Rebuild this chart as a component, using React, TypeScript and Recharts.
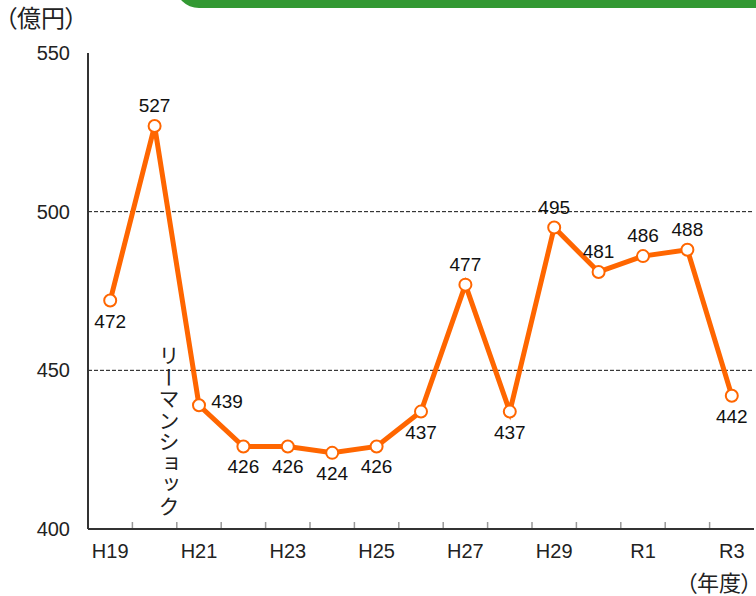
import { LineChart, Line, XAxis, YAxis, ReferenceLine, LabelList } from "recharts"

const years = ["H19", "H20", "H21", "H22", "H23", "H24", "H25", "H26", "H27", "H28", "H29", "H30", "R1", "R2", "R3"]
const amounts = [472, 527, 439, 426, 426, 424, 426, 437, 477, 437, 495, 481, 486, 488, 442]
// where each value label sits relative to its point
const labelSides = ["below", "above", "right", "below", "below", "below", "below", "below", "above", "below", "above", "above", "above", "above", "below"]
const yTicks = [400, 450, 500, 550]
const gridValues = [450, 500]

const data = years.map((year, i) => ({ year, amount: amounts[i] }))

const W = 756
const H = 596
const PLOT_LEFT = 88
const PLOT_RIGHT = 754
const STEP = (PLOT_RIGHT - PLOT_LEFT) / years.length
const ORANGE = "#FF6600"
const LATIN = "'Liberation Sans', Arial, sans-serif"
const CJK = "'Noto Sans CJK JP', sans-serif"

const YearTick = (props: any) => {
  const { x, y, index, payload } = props
  return (
    <g>
      {index < years.length - 1 && (
        <line x1={x + STEP / 2} x2={x + STEP / 2} y1={y - 1} y2={y - 7} stroke="#999" strokeWidth={1.5} />
      )}
      {index % 2 === 0 && (
        <text x={x} y={y + 29} textAnchor="middle" fontSize={20} fill="#222" fontFamily={LATIN}>
          {payload.value}
        </text>
      )}
    </g>
  )
}

const offsets: Record<string, [number, number]> = {
  above: [0, -14],
  below: [0, 27],
  right: [28, 3],
}

const ValueLabel = (props: any) => {
  const { x, y, value, index } = props
  const [dx, dy] = offsets[labelSides[index]]
  return (
    <text x={x + dx} y={y + dy} textAnchor="middle" fontSize={19} fill="#111" fontFamily={LATIN}>
      {value}
    </text>
  )
}

const App = () => {
  return (
    <div style={{ position: "absolute", left: 0, top: 0, width: W, height: H, overflow: "hidden", background: "#fff" }}>
      <div
        style={{
          position: "absolute",
          left: 175,
          top: -40,
          width: 700,
          height: 48,
          background: "#339933",
          borderRadius: 28,
        }}
      />
      <div
        style={{
          position: "absolute",
          left: 5,
          top: 3,
          fontSize: 24,
          lineHeight: 1.2,
          fontFamily: CJK,
          fontFeatureSettings: "'palt'",
          color: "#222",
          whiteSpace: "nowrap",
        }}
      >
        （億円）
      </div>
      <div
        style={{
          position: "absolute",
          left: 686,
          top: 569,
          fontSize: 22,
          lineHeight: 1.1,
          fontFamily: CJK,
          fontFeatureSettings: "'palt'",
          color: "#222",
          whiteSpace: "nowrap",
        }}
      >
        （年度）
      </div>
      <LineChart
        width={W}
        height={H}
        data={data}
        margin={{ top: 53, right: W - PLOT_RIGHT, bottom: 27, left: 0 }}
        style={{ position: "absolute", left: 0, top: 0 }}
      >
        <XAxis
          dataKey="year"
          scale="band"
          interval={0}
          height={40}
          tickSize={0}
          tickMargin={0}
          tick={<YearTick />}
          axisLine={{ stroke: "#333", strokeWidth: 2 }}
        />
        <XAxis xAxisId="top" dataKey="year" scale="band" orientation="top" height={0} tick={false} tickLine={false} axisLine={{ stroke: "#888", strokeWidth: 2 }} />
        <YAxis
          domain={[400, 550]}
          ticks={yTicks}
          width={PLOT_LEFT}
          tickSize={0}
          tickMargin={18}
          tick={{ fontSize: 20, fill: "#222", fontFamily: LATIN }}
          axisLine={{ stroke: "#333", strokeWidth: 2 }}
        />
        <YAxis yAxisId="right" orientation="right" type="number" domain={[400, 550]} width={0} tick={false} tickLine={false} axisLine={{ stroke: "#888", strokeWidth: 2 }} />
        {gridValues.map((v) => (
          <ReferenceLine key={v} y={v} stroke="#111" strokeWidth={1} strokeDasharray="4 2" />
        ))}
        <Line
          dataKey="amount"
          stroke={ORANGE}
          strokeWidth={5}
          dot={{ r: 6, fill: "#fff", stroke: ORANGE, strokeWidth: 2 }}
          isAnimationActive={false}
        >
          <LabelList dataKey="amount" content={<ValueLabel />} />
        </Line>
      </LineChart>
      <div
        style={{
          position: "absolute",
          left: 158,
          top: 345,
          writingMode: "vertical-rl",
          fontSize: 21,
          letterSpacing: 0.5,
          fontFamily: CJK,
          color: "#222",
          lineHeight: 1,
        }}
      >
        リーマンショック
      </div>
    </div>
  )
}

export default App
